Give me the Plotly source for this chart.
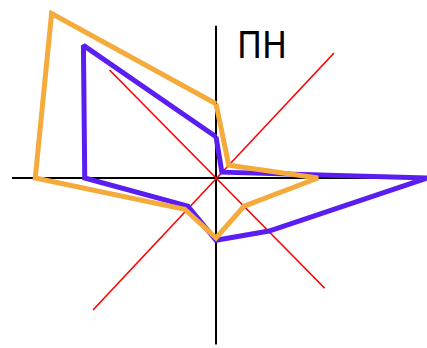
import math
import plotly.graph_objects as go

# Wind directions (compass) and frequencies (%) for two series
directions = ["ПН", "ПнС", "С", "ПдС", "Пд", "ПдЗ", "З", "ПнЗ"]
angles_deg = [0, 45, 90, 135, 180, 225, 270, 315]
orange_values = [9.9, 2.4, 13.6, 5.3, 8.0, 5.9, 24.1, 31.0]
purple_values = [5.5, 1.1, 28.2, 10.0, 8.3, 5.3, 17.5, 25.0]


def to_xy(values):
    xs = [v * math.sin(math.radians(a)) for v, a in zip(values, angles_deg)]
    ys = [v * math.cos(math.radians(a)) for v, a in zip(values, angles_deg)]
    return xs + xs[:1], ys + ys[:1]


fig = go.Figure()

# guide lines: main cross (black) and diagonals (red)
def seg(x0, y0, x1, y1, color, width):
    fig.add_shape(type="line", x0=x0, y0=y0, x1=x1, y1=y1, xref="x", yref="y",
                  line=dict(color=color, width=width), layer="below")

seg(-27.2, 0, 28.5, 0, "black", 2)
seg(0, 20.3, 0, -22.2, "black", 2)
seg(-14.2, 14.4, 14.5, -14.7, "red", 1.6)
seg(15.73, 16.67, -16.4, -17.6, "red", 1.6)

px, py = to_xy(purple_values)
fig.add_trace(go.Scatter(x=px, y=py, mode="lines", line=dict(color="#5A1EF0", width=5),
                         hoverinfo="skip", showlegend=False))
ox, oy = to_xy(orange_values)
fig.add_trace(go.Scatter(x=ox, y=oy, mode="lines", line=dict(color="#F5AA3C", width=5),
                         hoverinfo="skip", showlegend=False))

fig.add_annotation(x=6.07, y=17.6, xref="x", yref="y", text="ПН", showarrow=False,
                   font=dict(family="DejaVu Sans Condensed, DejaVu Sans", size=37, color="black"))

fig.update_layout(
    width=427, height=348,
    margin=dict(l=0, r=0, t=0, b=0),
    plot_bgcolor="white", paper_bgcolor="white",
    xaxis=dict(range=[-28.8, 28.13], visible=False, fixedrange=True),
    yaxis=dict(range=[-22.67, 23.73], visible=False, fixedrange=True),
)

fig.write_html("out.html", config={"displayModeBar": False},
               post_script="document.body.style.margin='0';document.body.style.overflow='hidden';")
